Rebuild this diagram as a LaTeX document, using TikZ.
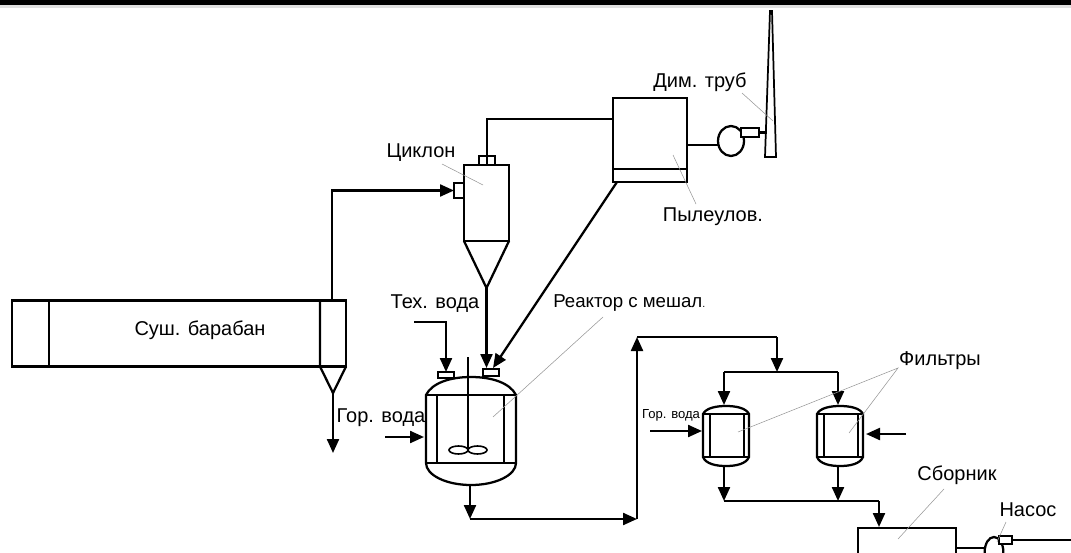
\documentclass[tikz,border=0pt]{standalone}
\usepackage{fontspec}
\setmainfont{Liberation Sans}
\usetikzlibrary{arrows.meta, positioning, calc, shapes.geometric}
\definecolor{leadergray}{RGB}{150, 150, 150}
\tikzset{
    pipe/.style={line width=1.7pt},
    flow/.style={pipe, -{Stealth[inset=0pt, length=10.5pt, width=9pt]}},
    unit/.style={draw, line width=1.7pt, inner sep=0pt, outer sep=0pt},
    leader/.style={leadergray, line width=0.4pt},
    lab/.style={font=\fontsize{15}{17}\selectfont, inner sep=0pt},
    smalllab/.style={font=\fontsize{9.8}{11}\selectfont, inner sep=0pt}
}
\begin{document}
\begin{tikzpicture}[x=0.75pt, y=-0.75pt]
    \useasboundingbox (0, 0) rectangle (1071, 553);
    \clip (0, 0) rectangle (1071, 553);

    % Top edge
    \fill[black] (0, 0) rectangle (1071, 5);
    \fill[black!12] (0, 5) rectangle (1071, 8);

    % Drum
    \node[unit, minimum width=250.5pt, minimum height=49.5pt] (drum) at (179, 333.5) {};
    \node[lab] (drumlabel) at (200, 330) {Суш. барабан};
    \draw[pipe] (49, 300.5) -- (49, 366.5);
    \draw[pipe] (320, 300.5) -- (320, 366.5) -- (333, 393) -- (346, 366.5);
    \coordinate (drumout) at (333, 393);
    \coordinate (drumwaste) at (333, 453);
    \coordinate (drumgas) at (332, 300.5);
    \draw[flow] (drumout) -- (drumwaste);

    % Cyclone
    \node[unit, minimum width=33.75pt, minimum height=57pt] (cyclone) at (486.5, 203) {};
    \coordinate (cycinlevel) at (0, 190.5);
    \node[unit, minimum width=7.5pt, minimum height=11.25pt, anchor=east] (cycin) at (cyclone.west |- cycinlevel) {};
    \node[unit, minimum width=12pt, minimum height=6.75pt, anchor=south] (cycout) at (487, 165) {};
    \coordinate (cycapex) at (486.5, 288);
    \draw[pipe] (cyclone.south west) -- (cycapex) -- (cyclone.south east);
    \node[lab] (cyclonelabel) at (421, 153) {Циклон};
    \coordinate (cyclead) at (442, 164);
    \coordinate (cycleadend) at (483, 185);
    \draw[leader] (cyclead) -- (cycleadend);
    \draw[flow] (drumgas) |- (cycin.west);

    % Dust filter
    \node[unit, minimum width=55.5pt, minimum height=63pt] (dust) at (650, 140) {};
    \coordinate (dusttray) at (0, 169);
    \coordinate (dustgaslevel) at (0, 119);
    \coordinate (dustoutlevel) at (0, 145);
    \draw[pipe] (dust.west |- dusttray) -- (dust.east |- dusttray);
    \coordinate (dustgas) at (dust.west |- dustgaslevel);
    \coordinate (dustout) at (dust.east |- dustoutlevel);
    \coordinate (dustdrop) at (617, 182);
    \draw[pipe] (cycout.south) |- (dustgas);
    \node[lab] (dustlabel) at (713, 217) {Пылеулов.};
    \coordinate (dustlead) at (673, 155);
    \coordinate (dustleadend) at (696, 204);
    \draw[leader] (dustlead) -- (dustleadend);

    % Fan and stack
    \node[unit, ellipse, minimum width=19.5pt, minimum height=22.5pt] (fan) at (731, 141) {};
    \node[unit, fill=white, minimum width=13.5pt, minimum height=6.75pt] (fanport) at (750, 132.5) {};
    \draw[line width=1.3pt] (770, 11) -- (765, 157) -- (776, 157) -- (772, 11) -- cycle;
    \coordinate (stackin) at (767, 132.5);
    \draw[pipe] (dustout) -- (fan.west |- dustout);
    \draw[pipe] (fanport.east) -- (stackin);
    \node[lab] (stacklabel) at (700, 82) {Дим. труб};
    \coordinate (stacklead) at (742, 93);
    \coordinate (stackleadend) at (773, 121);
    \draw[leader] (stacklead) -- (stackleadend);

    % Reactor
    \draw[pipe] (426, 395) .. controls (432, 383) and (450, 377) .. (471, 377)
        .. controls (492, 377) and (510, 383) .. (516, 395) -- (516, 463)
        .. controls (516, 475) and (496, 485) .. (471, 485)
        .. controls (446, 485) and (426, 475) .. (426, 463) -- cycle;
    \draw[pipe] (426, 395) -- (516, 395);
    \draw[pipe] (426, 463) -- (516, 463);
    \draw[pipe] (437, 395) -- (437, 463);
    \draw[pipe] (504, 395) -- (504, 463);
    \draw[pipe] (468, 357) -- (468, 449);
    \draw[line width=1.2pt] (458.5, 450) ellipse [x radius=9.5, y radius=4];
    \draw[line width=1.2pt] (477.5, 450) ellipse [x radius=9.5, y radius=4];
    \node[unit, minimum width=12pt, minimum height=4.5pt] (portwater) at (446, 375) {};
    \node[unit, minimum width=12pt, minimum height=5.25pt] (portfeed) at (491, 372.5) {};
    \coordinate (reactorout) at (470, 485);
    \coordinate (reactorheat) at (424, 437);
    \coordinate (heatstart) at (385, 437);
    \coordinate (waterstart) at (414, 322);
    \coordinate (feedtip) at (486.5, 368);
    \coordinate (dusttip) at (493, 368);
    \draw[flow] (waterstart) -| (portwater.north);
    \draw[flow] (cycapex) -- (feedtip);
    \draw[flow] (dustdrop) -- (dusttip);
    \draw[flow] (heatstart) -- (reactorheat);
    \node[lab] (waterlabel) at (435, 304) {Тех. вода};
    \node[lab] (heatlabel) at (381, 418) {Гор. вода};
    \node[lab, font=\fontsize{14}{16}\selectfont, anchor=west] (reactorlabel) at (553, 303) {Реактор с мешал{\fontsize{8}{10}\selectfont.}};
    \coordinate (reactorlead) at (603, 317);
    \coordinate (reactorleadend) at (493, 417);
    \draw[leader] (reactorlead) -- (reactorleadend);

    % Feed line to filters
    \coordinate (belowreactor) at (470, 519);
    \coordinate (riser) at (637, 519);
    \coordinate (risertop) at (637, 337);
    \coordinate (splitin) at (777, 337);
    \coordinate (split) at (777, 372);
    \draw[flow] (reactorout) -- (belowreactor);
    \draw[flow] (belowreactor) -- (riser);
    \draw[flow] (riser) -- (risertop);
    \draw[pipe] (risertop) -- (splitin);
    \draw[flow] (splitin) -- (split);

    % Filters
    \foreach \fx/\fname in {726/filtera, 840/filterb} {
        \begin{scope}[shift={(\fx, 0)}]
            \draw[pipe] (-23, 414) .. controls (-20, 408) and (-10, 406) .. (0, 406)
                .. controls (10, 406) and (20, 408) .. (23, 414) -- (23, 457)
                .. controls (20, 464) and (10, 466) .. (0, 466)
                .. controls (-10, 466) and (-20, 464) .. (-23, 457) -- cycle;
            \draw[pipe] (-23, 414) -- (23, 414);
            \draw[pipe] (-23, 457) -- (23, 457);
            \draw[pipe] (-16, 414) -- (-16, 457);
            \draw[pipe] (18, 414) -- (18, 457);
            \coordinate (\fname top) at (-2, 405);
            \coordinate (\fname out) at (-2, 466);
        \end{scope}
    }
    \coordinate (headerleft) at (filteratop |- split);
    \coordinate (headerright) at (filterbtop |- split);
    \draw[pipe] (headerleft) -- (headerright);
    \draw[flow] (headerleft) -- (filteratop);
    \draw[flow] (headerright) -- (filterbtop);
    \coordinate (heata) at (650, 431);
    \coordinate (heataend) at (702, 431);
    \coordinate (heatb) at (906, 434);
    \coordinate (heatbend) at (866, 434);
    \draw[flow] (heata) -- (heataend);
    \draw[flow] (heatb) -- (heatbend);
    \node[smalllab] (filterheat) at (671, 415) {Гор. вода};
    \node[lab] (filterlabel) at (940, 361) {Фильтры};
    \coordinate (filterlead) at (898, 368);
    \coordinate (filterleada) at (738, 432);
    \coordinate (filterleadb) at (849, 433);
    \draw[leader] (filterleada) -- (filterlead) -- (filterleadb);

    % Collector and pump
    \coordinate (collectlevel) at (0, 501);
    \coordinate (collecta) at (filteraout |- collectlevel);
    \coordinate (collectb) at (filterbout |- collectlevel);
    \coordinate (collectc) at (879, 501);
    \coordinate (collecttip) at (879, 527);
    \draw[flow] (filteraout) -- (collecta);
    \draw[flow] (filterbout) -- (collectb);
    \draw[pipe] (collecta) -- (collectc);
    \draw[flow] (collectc) -- (collecttip);
    \node[unit, minimum width=73.5pt, minimum height=37.5pt, anchor=north west] (collector) at (858, 528) {};
    \node[lab] (collectorlabel) at (957, 475) {Сборник};
    \coordinate (collead) at (944, 489);
    \coordinate (colleadend) at (898, 539);
    \draw[leader] (collead) -- (colleadend);
    \node[unit, ellipse, minimum width=14pt, minimum height=22.5pt] (pump) at (994, 552) {};
    \node[unit, fill=white, minimum width=9.75pt, minimum height=6pt] (pumpport) at (1005.5, 540) {};
    \coordinate (colloutlevel) at (0, 548);
    \coordinate (collout) at (collector.east |- colloutlevel);
    \coordinate (pumpline) at (1071, 540);
    \draw[pipe] (collout) -- (pump.west |- collout);
    \draw[pipe] (pumpport.east) -- (pumpline);
    \node[lab] (pumplabel) at (1028, 510) {Насос};
    \coordinate (pumplead) at (1006, 522);
    \coordinate (pumpleadend) at (997, 542);
    \draw[leader] (pumplead) -- (pumpleadend);
\end{tikzpicture}
\end{document}
